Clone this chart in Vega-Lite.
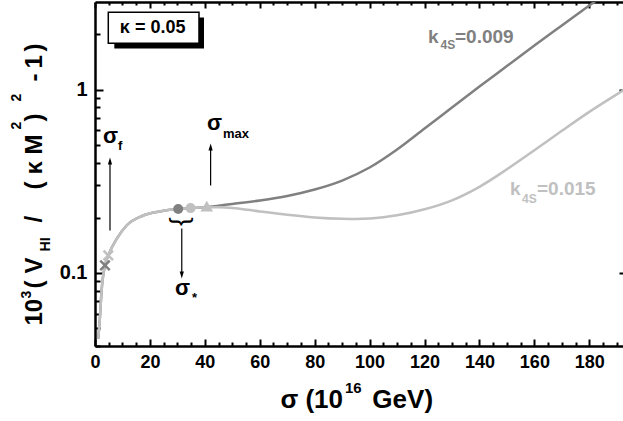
{
  "$schema": "https://vega.github.io/schema/vega-lite/v6.json",
  "width": 530,
  "height": 344,
  "autosize": "none",
  "padding": {"left": 95, "top": 2, "right": 0, "bottom": 75},
  "config": {
    "view": {"stroke": null},
    "axis": {"grid": false, "domainColor": "black", "tickColor": "black", "labelColor": "black", "labelFont": "Liberation Sans", "labelFontWeight": "bold", "domainWidth": 2.5, "tickWidth": 2, "labelFlush": false, "labelOverlap": false},
    "text": {"font": "Liberation Sans", "fontWeight": "bold"}
  },
  "datasets": {
    "curves": [
      {"s": "0.009", "x": 1.2, "y": 0.0438}, {"s": "0.009", "x": 1.8, "y": 0.0574}, {"s": "0.009", "x": 2.4, "y": 0.0803},
      {"s": "0.009", "x": 3.64, "y": 0.110}, {"s": "0.009", "x": 4.84, "y": 0.1246}, {"s": "0.009", "x": 7.9, "y": 0.1536},
      {"s": "0.009", "x": 11.5, "y": 0.1815}, {"s": "0.009", "x": 17.6, "y": 0.2058}, {"s": "0.009", "x": 23.6, "y": 0.2165},
      {"s": "0.009", "x": 27.3, "y": 0.221}, {"s": "0.009", "x": 30.3, "y": 0.2235}, {"s": "0.009", "x": 34.8, "y": 0.2258},
      {"s": "0.009", "x": 40.7, "y": 0.2284}, {"s": "0.009", "x": 45, "y": 0.2327}, {"s": "0.009", "x": 50, "y": 0.2377},
      {"s": "0.009", "x": 60, "y": 0.2484}, {"s": "0.009", "x": 70, "y": 0.2628}, {"s": "0.009", "x": 80, "y": 0.2851},
      {"s": "0.009", "x": 90, "y": 0.3191}, {"s": "0.009", "x": 100, "y": 0.3757}, {"s": "0.009", "x": 110, "y": 0.4711},
      {"s": "0.009", "x": 120, "y": 0.6129}, {"s": "0.009", "x": 130, "y": 0.7979}, {"s": "0.009", "x": 140, "y": 1.0384},
      {"s": "0.009", "x": 150, "y": 1.343}, {"s": "0.009", "x": 160, "y": 1.737}, {"s": "0.009", "x": 170, "y": 2.233},
      {"s": "0.009", "x": 180, "y": 2.870}, {"s": "0.009", "x": 185, "y": 3.25},
      {"s": "0.015", "x": 1.2, "y": 0.0438}, {"s": "0.015", "x": 1.8, "y": 0.0574}, {"s": "0.015", "x": 2.4, "y": 0.0803},
      {"s": "0.015", "x": 3.64, "y": 0.110}, {"s": "0.015", "x": 4.84, "y": 0.1246}, {"s": "0.015", "x": 7.9, "y": 0.1536},
      {"s": "0.015", "x": 11.5, "y": 0.1815}, {"s": "0.015", "x": 17.6, "y": 0.2058}, {"s": "0.015", "x": 23.6, "y": 0.2165},
      {"s": "0.015", "x": 27.3, "y": 0.221}, {"s": "0.015", "x": 30.3, "y": 0.2235}, {"s": "0.015", "x": 34.8, "y": 0.2258},
      {"s": "0.015", "x": 40.7, "y": 0.2284}, {"s": "0.015", "x": 45, "y": 0.2281}, {"s": "0.015", "x": 50, "y": 0.2264},
      {"s": "0.015", "x": 60, "y": 0.2166}, {"s": "0.015", "x": 70, "y": 0.2076}, {"s": "0.015", "x": 80, "y": 0.2009},
      {"s": "0.015", "x": 90, "y": 0.1974}, {"s": "0.015", "x": 95, "y": 0.1969}, {"s": "0.015", "x": 100, "y": 0.1979},
      {"s": "0.015", "x": 105, "y": 0.2011}, {"s": "0.015", "x": 110, "y": 0.2062}, {"s": "0.015", "x": 120, "y": 0.2224},
      {"s": "0.015", "x": 130, "y": 0.2490}, {"s": "0.015", "x": 140, "y": 0.2950}, {"s": "0.015", "x": 150, "y": 0.3674},
      {"s": "0.015", "x": 160, "y": 0.4664}, {"s": "0.015", "x": 170, "y": 0.5956}, {"s": "0.015", "x": 180, "y": 0.7557},
      {"s": "0.015", "x": 190, "y": 0.9415}, {"s": "0.015", "x": 193, "y": 1.0038}
    ],
    "circles": [{"s": "0.009", "x": 30.3, "y": 0.2235}, {"s": "0.015", "x": 34.8, "y": 0.2258}],
    "crosses": [{"s": "0.009", "x": 3.64, "y": 0.110}, {"s": "0.015", "x": 4.84, "y": 0.1246}],
    "triangle": [{"s": "0.015", "x": 40.7, "y": 0.2315}],
    "arrows": [{"x": 5.46, "y": 0.1705, "y2": 0.41}, {"x": 42.1, "y": 0.2998, "y2": 0.489}, {"x": 31.6, "y": 0.1748, "y2": 0.0975}],
    "heads": [{"x": 5.46, "y": 0.4076, "d": "up"}, {"x": 42.1, "y": 0.486, "d": "up"}, {"x": 31.6, "y": 0.0975, "d": "down"}],
    "sigmas": [{"t": "σ", "x": 2.91, "y": 0.508}, {"t": "σ", "x": 40.79, "y": 0.6016}, {"t": "σ", "x": 29.13, "y": 0.0763}],
    "sigsubs": [{"t": "f", "x": 8.38, "y": 0.471}, {"t": "max", "x": 46.61, "y": 0.5477}, {"t": "*", "x": 35.32, "y": 0.0691}],
    "klabels": [{"t": "k", "x": 121.27, "y": 1.804, "s": "0.009"}, {"t": "=0.009", "x": 131.1, "y": 1.804, "s": "0.009"}, {"t": "k", "x": 151.1, "y": 0.2645, "s": "0.015"}, {"t": "=0.015", "x": 160.96, "y": 0.2645, "s": "0.015"}],
    "ksubs": [{"t": "4S", "x": 125.82, "y": 1.673, "s": "0.009"}, {"t": "4S", "x": 155.5, "y": 0.2422, "s": "0.015"}],
    "ytitle": [{"t": "10", "x": -19.3, "y": 0.05175}, {"t": "(", "x": -19.3, "y": 0.0823}, {"t": "V", "x": -19.3, "y": 0.0994}, {"t": "/", "x": -19.3, "y": 0.1884}, {"t": "(", "x": -19.3, "y": 0.2851}, {"t": "κ", "x": -19.3, "y": 0.3441}, {"t": "M", "x": -19.3, "y": 0.4422}, {"t": ")", "x": -19.3, "y": 0.6692}, {"t": "-", "x": -19.3, "y": 1.1056}, {"t": "1", "x": -19.3, "y": 1.3016}, {"t": ")", "x": -19.3, "y": 1.611}],
    "ytitlesmall": [{"t": "3", "x": -23.31, "y": 0.07262}, {"t": "HI", "x": -16.39, "y": 0.131}, {"t": "2", "x": -26.95, "y": 0.6053}, {"t": "2", "x": -26.95, "y": 0.8603}],
    "xtitle": [{"t": "σ (10", "x": 90.31, "y": 0.01827}, {"t": "GeV)", "x": 123.1, "y": 0.01827}],
    "xtitlesmall": [{"t": "16", "x": 91.04, "y": 0.02205}]
  },
  "resolve": {"axis": {"x": "independent", "y": "independent"}},
  "layer": [
    {
      "data": {"values": [{"x": 7.03, "x2": 39.69, "y": 1.673, "y2": 2.469}]},
      "mark": {"type": "rect", "color": "black"},
      "encoding": {
        "x": {"field": "x", "type": "quantitative", "scale": {"domain": [0, 193], "nice": false, "zero": false}, "axis": null},
        "x2": {"field": "x2"},
        "y": {"field": "y", "type": "quantitative", "scale": {"type": "log", "domain": [0.04, 3], "nice": false}, "axis": null},
        "y2": {"field": "y2"}
      }
    },
    {
      "data": {"values": [{"x": 4.84, "x2": 37.87, "y": 1.788, "y2": 2.638}]},
      "mark": {"type": "rect", "fill": "white", "stroke": "black", "strokeWidth": 1.5},
      "encoding": {
        "x": {"field": "x", "type": "quantitative", "axis": null},
        "x2": {"field": "x2"},
        "y": {"field": "y", "type": "quantitative", "axis": null},
        "y2": {"field": "y2"}
      }
    },
    {
      "data": {"values": [{"t": "κ = 0.05", "x": 21.0, "y": 2.163}]},
      "mark": {"type": "text", "fontSize": 18, "align": "center", "baseline": "middle", "color": "black"},
      "encoding": {
        "x": {"field": "x", "type": "quantitative", "axis": null},
        "y": {"field": "y", "type": "quantitative", "axis": null},
        "text": {"field": "t"}
      }
    },
    {
      "data": {"name": "curves"},
      "mark": {"type": "line", "strokeWidth": 2.5, "interpolate": "monotone", "clip": true},
      "encoding": {
        "x": {"field": "x", "type": "quantitative", "axis": {"orient": "bottom", "title": null, "values": [0, 20, 40, 60, 80, 100, 120, 140, 160, 180], "tickSize": -7, "labelPadding": 14, "labelFontSize": 18, "format": "d"}},
        "y": {"field": "y", "type": "quantitative", "axis": {"orient": "left", "title": null, "values": [0.1, 1], "tickSize": -8, "labelPadding": 16, "labelFontSize": 20, "format": "~g"}},
        "color": {"field": "s", "type": "nominal", "scale": {"domain": ["0.009", "0.015"], "range": ["#808080", "#c0c0c0"]}, "legend": null},
        "order": {"field": "x", "type": "quantitative"}
      }
    },
    {
      "data": {"name": "crosses"},
      "mark": {"type": "point", "shape": "M-1,-1L1,1M-1,1L1,-1", "filled": false, "strokeWidth": 2.5, "size": 90, "opacity": 1},
      "encoding": {
        "x": {"field": "x", "type": "quantitative", "axis": {"orient": "top", "title": null, "values": [5, 10, 15, 25, 30, 35, 45, 50, 55, 65, 70, 75, 85, 90, 95, 105, 110, 115, 125, 130, 135, 145, 150, 155, 165, 170, 175, 185, 190], "tickSize": -3, "labels": false, "domain": false}},
        "y": {"field": "y", "type": "quantitative", "axis": null},
        "color": {"field": "s", "type": "nominal", "legend": null}
      }
    },
    {
      "data": {"name": "circles"},
      "mark": {"type": "point", "shape": "circle", "filled": true, "size": 100, "opacity": 1},
      "encoding": {
        "x": {"field": "x", "type": "quantitative", "axis": {"orient": "bottom", "title": null, "values": [5, 10, 15, 25, 30, 35, 45, 50, 55, 65, 70, 75, 85, 90, 95, 105, 110, 115, 125, 130, 135, 145, 150, 155, 165, 170, 175, 185, 190], "tickSize": -4, "labels": false, "domain": false}},
        "y": {"field": "y", "type": "quantitative", "axis": {"orient": "left", "title": null, "values": [0.04, 0.05, 0.06, 0.07, 0.08, 0.09, 0.2, 0.3, 0.4, 0.5, 0.6, 0.7, 0.8, 0.9, 2], "tickSize": -5, "labels": false, "domain": false}},
        "color": {"field": "s", "type": "nominal", "legend": null}
      }
    },
    {
      "data": {"name": "triangle"},
      "mark": {"type": "point", "shape": "triangle-up", "filled": true, "size": 160, "opacity": 1},
      "encoding": {
        "x": {"field": "x", "type": "quantitative", "axis": {"orient": "top", "title": null, "values": [0, 20, 40, 60, 80, 100, 120, 140, 160, 180], "tickSize": -6, "labels": false}},
        "y": {"field": "y", "type": "quantitative", "axis": {"orient": "right", "title": null, "values": [0.1, 1], "tickSize": -6, "labels": false}},
        "color": {"field": "s", "type": "nominal", "legend": null}
      }
    },
    {
      "data": {"name": "arrows"},
      "mark": {"type": "rule", "color": "black", "strokeWidth": 1.2},
      "encoding": {
        "x": {"field": "x", "type": "quantitative", "axis": null},
        "y": {"field": "y", "type": "quantitative", "axis": null},
        "y2": {"field": "y2"}
      }
    },
    {
      "data": {"name": "heads"},
      "mark": {"type": "point", "filled": true, "color": "black", "size": 49, "opacity": 1},
      "encoding": {
        "x": {"field": "x", "type": "quantitative", "axis": null},
        "y": {"field": "y", "type": "quantitative", "axis": null},
        "shape": {"field": "d", "type": "nominal", "scale": {"domain": ["up", "down"], "range": ["M0,-1L0.6,1L-0.6,1Z", "M0,1L0.6,-1L-0.6,-1Z"]}, "legend": null}
      }
    },
    {
      "data": {"name": "sigmas"},
      "mark": {"type": "text", "fontSize": 22, "align": "left", "baseline": "alphabetic", "color": "black"},
      "encoding": {
        "x": {"field": "x", "type": "quantitative", "axis": null},
        "y": {"field": "y", "type": "quantitative", "axis": null},
        "text": {"field": "t"}
      }
    },
    {
      "data": {"name": "sigsubs"},
      "mark": {"type": "text", "fontSize": 13, "align": "left", "baseline": "alphabetic", "color": "black"},
      "encoding": {
        "x": {"field": "x", "type": "quantitative", "axis": null},
        "y": {"field": "y", "type": "quantitative", "axis": null},
        "text": {"field": "t"}
      }
    },
    {
      "data": {"name": "klabels"},
      "mark": {"type": "text", "fontSize": 19, "align": "left", "baseline": "alphabetic"},
      "encoding": {
        "x": {"field": "x", "type": "quantitative", "axis": null},
        "y": {"field": "y", "type": "quantitative", "axis": null},
        "text": {"field": "t"},
        "color": {"field": "s", "type": "nominal", "legend": null}
      }
    },
    {
      "data": {"name": "ksubs"},
      "mark": {"type": "text", "fontSize": 12, "align": "left", "baseline": "alphabetic"},
      "encoding": {
        "x": {"field": "x", "type": "quantitative", "axis": null},
        "y": {"field": "y", "type": "quantitative", "axis": null},
        "text": {"field": "t"},
        "color": {"field": "s", "type": "nominal", "legend": null}
      }
    },
    {
      "data": {"values": [{"t": "}", "x": 31.86, "y": 0.1909}]},
      "mark": {"type": "text", "fontSize": 26, "fontWeight": "normal", "angle": 90, "align": "center", "baseline": "middle", "color": "black"},
      "encoding": {
        "x": {"field": "x", "type": "quantitative", "axis": null},
        "y": {"field": "y", "type": "quantitative", "axis": null},
        "text": {"field": "t"}
      }
    },
    {
      "data": {"name": "xtitle"},
      "mark": {"type": "text", "fontSize": 26, "align": "right", "baseline": "alphabetic", "color": "black"},
      "encoding": {
        "x": {"field": "x", "type": "quantitative", "axis": null},
        "y": {"field": "y", "type": "quantitative", "axis": null},
        "text": {"field": "t"}
      }
    },
    {
      "data": {"name": "xtitlesmall"},
      "mark": {"type": "text", "fontSize": 15, "align": "left", "baseline": "alphabetic", "color": "black"},
      "encoding": {
        "x": {"field": "x", "type": "quantitative", "axis": null},
        "y": {"field": "y", "type": "quantitative", "axis": null},
        "text": {"field": "t"}
      }
    },
    {
      "data": {"name": "ytitle"},
      "mark": {"type": "text", "fontSize": 24, "angle": 270, "align": "left", "baseline": "alphabetic", "color": "black"},
      "encoding": {
        "x": {"field": "x", "type": "quantitative", "axis": null},
        "y": {"field": "y", "type": "quantitative", "axis": null},
        "text": {"field": "t"}
      }
    },
    {
      "data": {"name": "ytitlesmall"},
      "mark": {"type": "text", "fontSize": 14, "angle": 270, "align": "left", "baseline": "alphabetic", "color": "black"},
      "encoding": {
        "x": {"field": "x", "type": "quantitative", "axis": null},
        "y": {"field": "y", "type": "quantitative", "axis": null},
        "text": {"field": "t"}
      }
    }
  ]
}
